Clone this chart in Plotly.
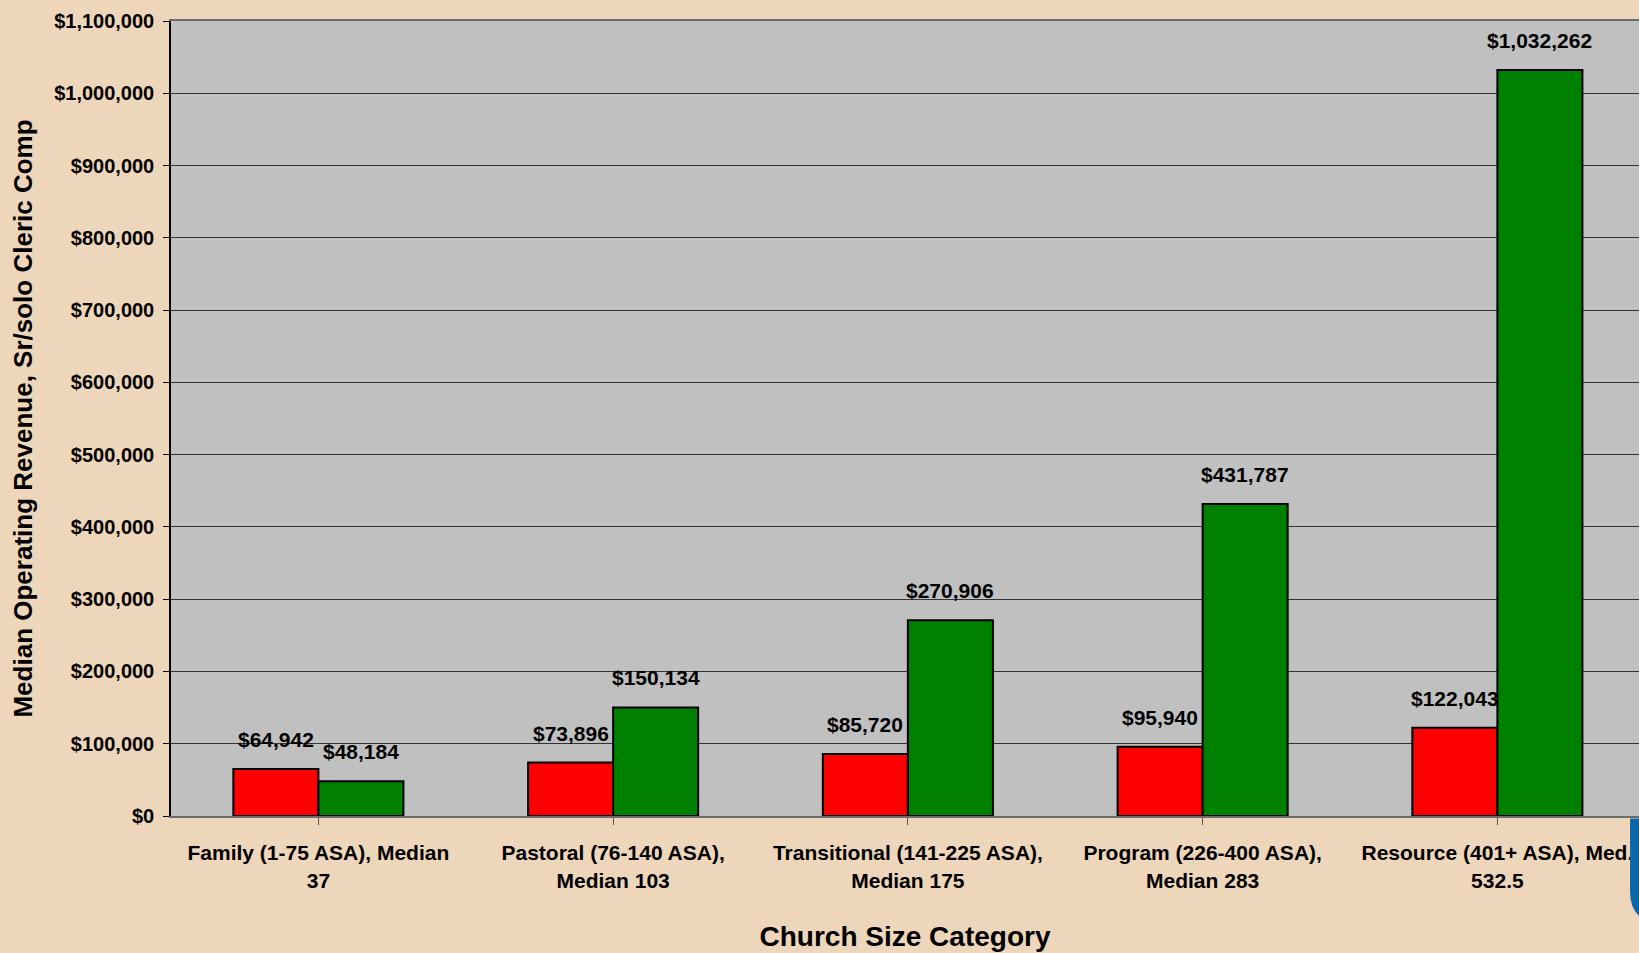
import plotly.graph_objects as go

categories = [
    "Family (1-75 ASA), Median<br>37",
    "Pastoral (76-140 ASA),<br>Median 103",
    "Transitional (141-225 ASA),<br>Median 175",
    "Program (226-400 ASA),<br>Median 283",
    "Resource (401+ ASA), Med.<br>532.5",
]
comp_values = [64942, 73896, 85720, 95940, 122043]
revenue_values = [48184, 150134, 270906, 431787, 1032262]
y_ticks = [0, 100000, 200000, 300000, 400000, 500000, 600000, 700000, 800000, 900000, 1000000, 1100000]

FONT = "Liberation Sans, Arial, sans-serif"
PAPER = "#EED6BB"
BARGAP = 0.423
half_bar = (1 - BARGAP) / 4  # offset of each bar center from category center

fig = go.Figure()
fig.add_trace(go.Bar(
    name="Sr/solo Cleric Comp", x=list(range(len(categories))), y=comp_values,
    marker=dict(color="#FF0000", line=dict(color="black", width=2)),
))
fig.add_trace(go.Bar(
    name="Median Operating Revenue", x=list(range(len(categories))), y=revenue_values,
    marker=dict(color="#008000", line=dict(color="black", width=2)),
))

annotations = []
for i, v in enumerate(comp_values):
    annotations.append(dict(x=i - half_bar, y=v, text=f"${v:,}", showarrow=False,
                            yanchor="bottom", yshift=16, xanchor="center",
                            font=dict(family=FONT, size=21, color="black", weight="bold")))
for i, v in enumerate(revenue_values):
    annotations.append(dict(x=i + half_bar, y=v, text=f"${v:,}", showarrow=False,
                            yanchor="bottom", yshift=16, xanchor="center",
                            font=dict(family=FONT, size=21, color="black", weight="bold")))

fig.update_layout(
    width=1639, height=953,
    margin=dict(l=171, r=0, t=21, b=137, pad=0),
    paper_bgcolor=PAPER,
    plot_bgcolor="#C0C0C0",
    barmode="group", bargap=BARGAP, bargroupgap=0,
    showlegend=False,
    annotations=annotations,
    font=dict(family=FONT, color="black"),
    shapes=[dict(type="path", xref="paper", yref="paper",
                 path="M 1.01 -0.003 L 0.9939 -0.003 L 0.9939 -0.095 Q 0.9939 -0.128 1.01 -0.135 Z",
                 fillcolor="#0A66A8", line=dict(width=0), layer="above")],
)

fig.update_xaxes(
    tickmode="array", tickvals=list(range(len(categories))),
    ticktext=categories,
    range=[-0.5, -0.5 + (1639 - 171) / 294.75],
    tickfont=dict(family=FONT, size=21, color="black", weight="bold"),
    ticklabelstandoff=10,
    showline=True, linecolor="#6a6a6a", linewidth=2, mirror=True,
    ticks="outside", ticklen=7, tickcolor="#555555", tickwidth=1,
    showgrid=False, zeroline=False,
    title=dict(text="Church Size Category", font=dict(family=FONT, size=28, color="black", weight="bold"), standoff=36),
)
fig.update_xaxes(tickson="boundaries")

fig.update_yaxes(
    range=[0, 1100000],
    tickmode="array", tickvals=y_ticks,
    tickformat="$,.0f",
    tickfont=dict(family=FONT, size=20, color="black", weight="bold"),
    ticklabelstandoff=5,
    showline=True, linecolor="black", linewidth=1.5,
    ticks="outside", ticklen=6, tickcolor="black", tickwidth=1,
    showgrid=True, gridcolor="#333333", gridwidth=1,
    zeroline=False,
    title=dict(text="Median Operating Revenue, Sr/solo Cleric Comp", font=dict(family=FONT, size=26, color="black", weight="bold"), standoff=14),
)

fig.write_html("out.html", config={"displayModeBar": False},
               post_script=f"document.body.style.margin='0';document.body.style.background='{PAPER}';")
